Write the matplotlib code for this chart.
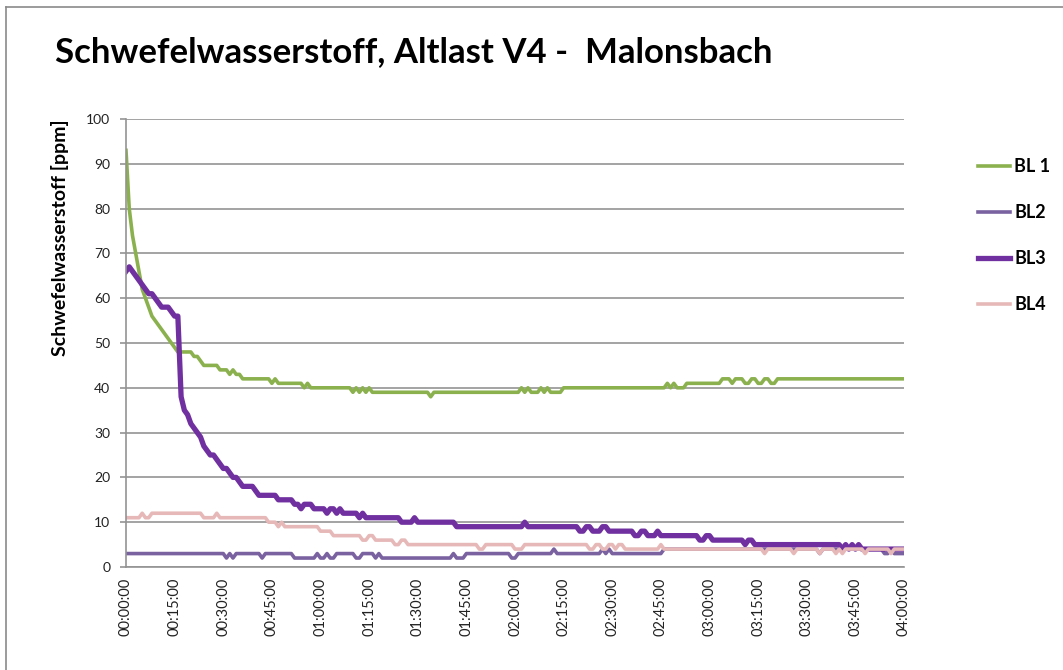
import numpy as np
import matplotlib
matplotlib.use("Agg")
import matplotlib.pyplot as plt
from matplotlib.lines import Line2D

plt.rcParams["font.family"] = ["Lato", "DejaVu Sans"]

# Readings once per minute, 00:00 .. 04:00, stored as level + number of minutes held
bl1_levels = [93, 80, 74, 70, 66, 62, 60, 58, 56, 55, 54, 53, 52, 51, 50, 49,
              48, 47, 46, 45, 44, 43, 44, 43, 42, 41, 42, 41, 40, 41, 40,
              39, 40, 39, 40, 39, 40, 39, 38, 39, 40, 39, 40, 39, 40, 39, 40, 39,
              40, 41, 40, 41, 40, 41, 42, 41, 42, 41, 42, 41, 42, 41, 42]
bl1_minutes = [1] * 16 + [5, 2, 1, 5, 3, 1, 1, 2, 9, 1, 1, 8, 1, 1, 13,
                          1, 1, 1, 1, 1, 1, 18, 1, 27, 1, 1, 1, 3, 1, 1, 1, 4,
                          32, 1, 1, 1, 3, 11, 3, 1, 3, 2, 2, 2, 2, 2, 40]

bl2_levels = [3, 2, 3, 2, 3, 2, 3, 2, 3, 2, 3, 2, 3, 2, 3, 2, 3, 2, 3, 2,
              3, 2, 3, 4, 3, 4, 3, 4, 3, 4, 3, 4, 3, 4, 3]
bl2_minutes = [31, 1, 1, 1, 8, 1, 9, 7, 1, 2, 1, 2, 6, 2, 4, 1, 1, 22, 1, 3,
               14, 2, 11, 1, 14, 1, 1, 1, 16, 48, 1, 19, 2, 1, 4]

bl3_levels = [66, 67, 66, 65, 64, 63, 62, 61, 61, 60, 59, 58, 58, 58, 57, 56, 56,
              38, 35, 34, 32, 31, 30, 29, 27, 26, 25, 25, 24, 23, 22, 22, 21, 20, 20, 19,
              18, 17, 16, 15, 14, 13, 14, 13, 12, 13, 12, 13, 12, 11, 12, 11, 10, 11, 10,
              9, 10, 9, 8, 9, 8, 9, 8, 7, 8, 7, 8, 7, 6, 7, 6, 5, 6, 5,
              4, 5, 4, 5, 4, 5, 4]
bl3_minutes = [1] * 36 + [4, 1, 6, 5, 2, 1, 3, 4, 1, 2, 1, 1, 5, 1, 1, 11, 4, 1, 12,
                          21, 1, 16, 2, 2, 3, 2, 8, 2, 2, 3, 1, 12, 2, 2, 10, 1, 2, 27,
                          1, 1, 1, 1, 1, 1, 14]

bl4_levels = [11, 12, 11, 12, 11, 12, 11, 10, 9, 10, 9, 8, 7, 6, 7, 6, 5, 6, 5,
              4, 5, 4, 5, 4, 5, 4, 5, 4, 5, 4, 5, 4,
              3, 4, 3, 4, 3, 4, 3, 4, 3, 4, 3, 4, 3, 4]
bl4_minutes = [5, 1, 2, 16, 4, 1, 15, 3, 1, 1, 11, 4, 9, 2, 2, 6, 2, 2, 22,
               2, 9, 3, 20, 2, 2, 2, 2, 1, 2, 11, 1, 31,
               1, 8, 1, 7, 1, 4, 1, 1, 1, 6, 1, 7, 1, 4]

series_names = ["BL 1", "BL2", "BL3", "BL4"]
tick_minutes = list(range(0, 241, 15))
tick_labels = [f"{m // 60:02d}:{m % 60:02d}:00" for m in tick_minutes]

colors = ["#8BB14F", "#7A62A0", "#7030A0", "#E6B9B8"]
widths = [2.6, 2.6, 3.8, 2.6]

W, H = 1063, 670
fig = plt.figure(figsize=(W / 100, H / 100), dpi=100)
ax = fig.add_axes([126 / W, 1 - 567 / H, (904 - 126) / W, (567 - 119) / H])

series = [
    np.repeat(bl1_levels, bl1_minutes),
    np.repeat(bl2_levels, bl2_minutes),
    np.repeat(bl3_levels, bl3_minutes),
    np.repeat(bl4_levels, bl4_minutes),
]
for name, vals, c, lw in zip(series_names, series, colors, widths):
    ax.plot(np.arange(len(vals)), vals, color=c, lw=lw, label=name,
            solid_joinstyle="round")

grid_c = "#939393"
ax.set_xlim(0, 240)
ax.set_ylim(0, 100)
ax.set_yticks(range(0, 101, 10))
ax.yaxis.grid(True, color=grid_c, lw=1.2)
ax.set_axisbelow(True)
for side in ("top", "right"):
    ax.spines[side].set_visible(False)
for side in ("left", "bottom"):
    ax.spines[side].set_color(grid_c)
    ax.spines[side].set_linewidth(1.2)
ax.tick_params(axis="y", direction="out", length=4.3, width=1.2, color=grid_c,
               pad=7, labelsize=10, labelcolor="#222222")
ax.set_xticks(tick_minutes)
ax.set_xticklabels(tick_labels, rotation=90, fontsize=10.5, color="#222222")
ax.tick_params(axis="x", length=0, pad=8)

fig.text(55 / W, 1 - 62 / H, "Schwefelwasserstoff, Altlast V4 -  Malonsbach",
         fontsize=25, fontweight="bold", va="baseline", ha="left")
fig.text(60 / W, 1 - 238 / H, "Schwefelwasserstoff [ppm]", rotation=90,
         fontsize=14, fontweight="bold", va="center", ha="center")

fig.legend(loc="upper left", bbox_to_anchor=(962 / W, 1 - 142 / H),
           frameon=False, prop={"weight": "bold", "size": 13},
           handlelength=1.75, handletextpad=0.25, labelspacing=1.6)

# chart area border (only top and left edges are inside the picture)
fig.add_artist(Line2D([6 / W, 6 / W], [0, 1 - 7 / H], color="#8A8A8A", lw=1.2))
fig.add_artist(Line2D([6 / W, 1], [1 - 7 / H, 1 - 7 / H], color="#8A8A8A", lw=1.2))

fig.savefig("out.png", dpi=100)
